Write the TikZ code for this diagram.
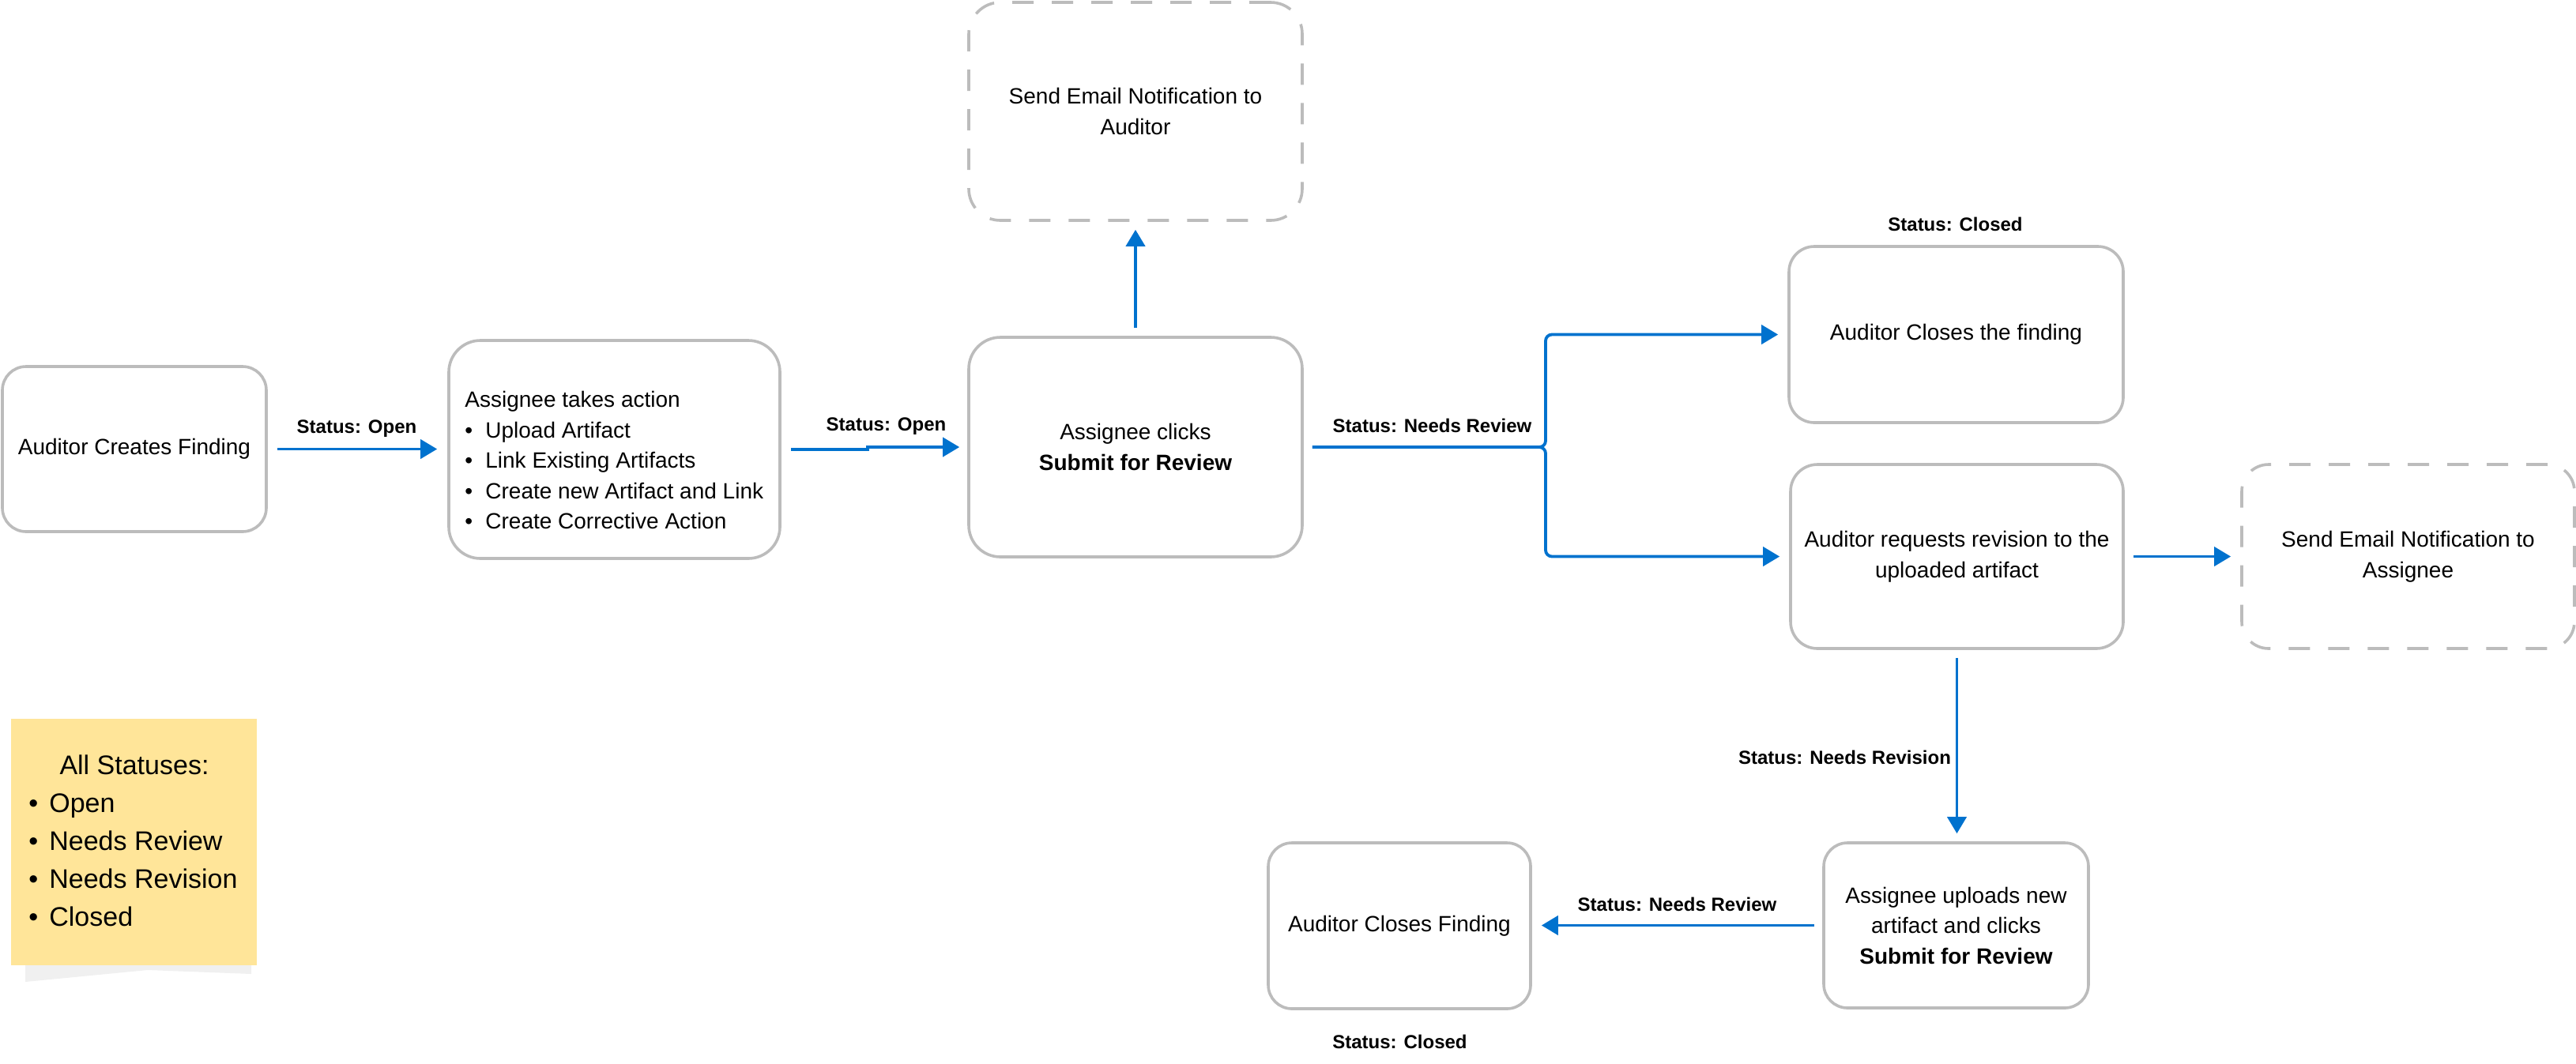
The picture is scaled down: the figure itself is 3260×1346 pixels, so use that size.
\documentclass[tikz,border=0pt]{standalone}
\usepackage{fontspec}
\setmainfont{Liberation Sans}
\usetikzlibrary{arrows.meta}
\definecolor{edgeblue}{RGB}{0,114,206}
\definecolor{boxgray}{RGB}{188,188,188}
\definecolor{notefill}{RGB}{255,229,153}
\tikzset{
  box/.style={draw=boxgray, line width=1.8pt, fill=white, rounded corners=15pt,
    align=center, font=\fontsize{14}{19.25}\selectfont, inner sep=0pt},
  dbox/.style={box, dash pattern=on 13.5pt off 11.5pt},
  flow/.style={draw=edgeblue, line width=1.9pt, -{Triangle[length=10.5pt,width=12pt]}},
  lbl/.style={font=\bfseries\fontsize{12}{14}\selectfont, inner sep=0pt},
  plain/.style={font=\fontsize{14}{19.25}\selectfont, inner sep=0pt, align=left},
  notetxt/.style={font=\fontsize{17}{24}\selectfont, inner sep=0pt, align=left},
}
\begin{document}
\begin{tikzpicture}[x=0.5pt,y=-0.5pt]
\useasboundingbox (0,0) rectangle (3260,1346);

% nodes
\node[box, minimum width=167pt, minimum height=104.5pt] (A) at (170,568.5) {Auditor Creates Finding};
\node[box, minimum width=209.5pt, minimum height=138pt, rounded corners=20pt] (B) at (777.5,569) {};
\node[plain, anchor=west] (Btxt) at (588,582.5) {Assignee takes action\\
  \makebox[13pt][l]{\textbullet}Upload Artifact\\
  \makebox[13pt][l]{\textbullet}Link Existing Artifacts\\
  \makebox[13pt][l]{\textbullet}Create new Artifact and Link\\
  \makebox[13pt][l]{\textbullet}Create Corrective Action};
\node[box, minimum width=211pt, minimum height=139pt, rounded corners=20pt] (C) at (1437,566) {Assignee clicks\\\textbf{Submit for Review}};
\node[dbox, minimum width=211pt, minimum height=138pt, rounded corners=20pt] (E1) at (1437,141) {Send Email Notification to\\Auditor};
\node[box, minimum width=211.5pt, minimum height=111.5pt, rounded corners=16pt] (D) at (2475.5,423.5) {Auditor Closes the finding};
\node[box, minimum width=210.5pt, minimum height=116.5pt, rounded corners=17pt] (R) at (2476.5,704.5) {Auditor requests revision to the\\uploaded artifact};
\node[dbox, minimum width=210.5pt, minimum height=116.5pt, rounded corners=17pt] (E2) at (3047.5,704.5) {Send Email Notification to\\Assignee};
\node[box, minimum width=167.5pt, minimum height=104.5pt] (U) at (2475.5,1171.5) {Assignee uploads new\\artifact and clicks\\\textbf{Submit for Review}};
\node[box, minimum width=166pt, minimum height=105pt] (F) at (1771,1172) {Auditor Closes Finding};

% sticky note
\fill[black!6] (32,1222) -- (318,1222) -- (318,1233) -- (187,1228) -- (32,1243) -- cycle;
\node[fill=notefill, draw=none, minimum width=155.5pt, minimum height=156pt, inner sep=0pt] (N) at (169.5,1066) {};
\node[notetxt] (Nhead) at (170,968) {All Statuses:};
\node[notetxt, anchor=west] (Nlist) at (36,1088.5) {\makebox[13pt][l]{\textbullet}Open\\
  \makebox[13pt][l]{\textbullet}Needs Review\\
  \makebox[13pt][l]{\textbullet}Needs Revision\\
  \makebox[13pt][l]{\textbullet}Closed};

% connectors
\coordinate (J) at (1956,566);
\draw[flow, shorten <=6pt, shorten >=6.5pt] (A.east) -- (A.east -| B.west);
\draw[flow, shorten <=6pt, shorten >=5pt] (B.east) -- ++(109,0) |- (C.west);
\draw[flow, shorten <=5pt, shorten >=5pt] (C.north) -- (E1.south);
\draw[flow, rounded corners=4pt, shorten <=5.5pt, shorten >=6pt] (C.east) -- (J) |- (D.west);
\draw[flow, rounded corners=4pt, shorten <=5.5pt, shorten >=6pt] (C.east) -- (J) |- (R.west);
\draw[flow, shorten <=5.5pt, shorten >=6pt] (R.east) -- (E2.west);
\draw[flow, shorten <=5pt, shorten >=5pt] (R.south) -- (R.south |- U.north);
\draw[flow, shorten <=5pt, shorten >=6pt] (U.west) -- (U.west -| F.east);

% labels
\node[lbl] (L1) at (451.5,543) {Status: Open};
\node[lbl] (L2) at (1121.5,540) {Status: Open};
\node[lbl] (L3) at (1812.5,539) {Status: Needs Review};
\node[lbl] (L4) at (2474.5,284) {Status: Closed};
\node[lbl] (L5) at (2334.5,959) {Status: Needs Revision};
\node[lbl] (L6) at (2122.5,1145) {Status: Needs Review};
\node[lbl] (L7) at (1771.5,1319) {Status: Closed};
\end{tikzpicture}
\end{document}
